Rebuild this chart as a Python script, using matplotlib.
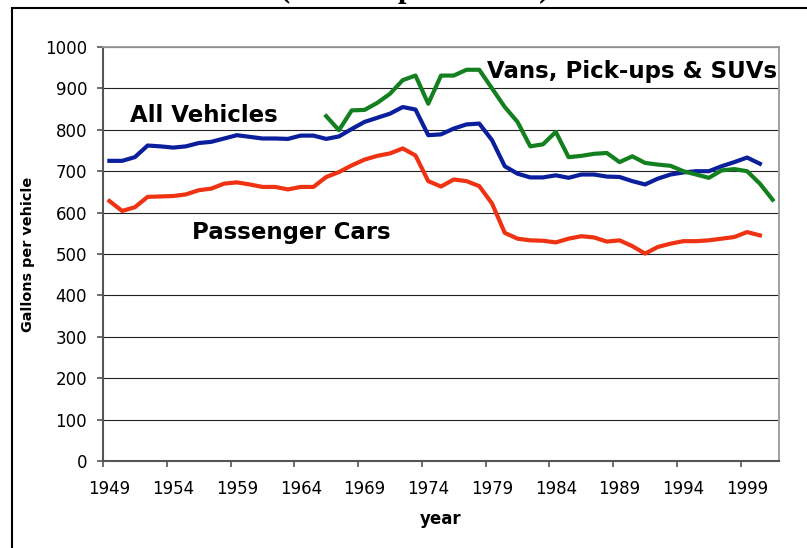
import matplotlib
matplotlib.use("Agg")
import matplotlib.pyplot as plt
from matplotlib.patches import Rectangle
import numpy as np

# ---- data ----
years = list(range(1949, 2002))                 # categories 1949..2001
years_all = list(range(1949, 2001))             # All Vehicles / Passenger Cars
years_vans = list(range(1966, 2002))            # Vans, Pick-ups & SUVs

all_vehicles = [725, 725, 734, 762, 760, 757, 760, 768, 771, 779,
                787, 783, 779, 779, 778, 786, 786, 778, 784, 802,
                819, 829, 839, 855, 849, 787, 789, 803, 813, 815,
                775, 712, 694, 685, 685, 690, 684, 692, 692, 687,
                686, 676, 668, 682, 692, 697, 700, 700, 712, 722,
                733, 718]
passenger_cars = [628, 604, 613, 638, 639, 640, 644, 654, 658, 670,
                  673, 668, 662, 662, 656, 662, 662, 686, 698, 714,
                  728, 737, 743, 755, 738, 676, 663, 680, 676, 664,
                  622, 551, 537, 533, 532, 528, 537, 543, 540, 530,
                  533, 519, 501, 517, 525, 531, 531, 533, 537, 541,
                  553, 545]
vans_pickups_suvs = [833, 799, 847, 848, 865, 887, 920, 931, 863, 931,
                     931, 945, 945, 900, 855, 819, 760, 765, 795, 734,
                     737, 742, 744, 722, 736, 720, 716, 713, 700, 692,
                     684, 702, 705, 700, 670, 631]

xtick_labels = [str(y) for y in range(1949, 2000, 5)]
ytick_values = list(range(0, 1001, 100))

title_text = "(Gallons per vehicle)"
label_all = "All Vehicles"
label_cars = "Passenger Cars"
label_vans = "Vans, Pick-ups & SUVs"

# ---- figure ----
W, H = 807, 548
fig = plt.figure(figsize=(W / 100, H / 100), dpi=100)
plt.rcParams['font.family'] = ['DejaVu Sans']

ax = fig.add_axes([103 / W, 1 - 461 / H, 676 / W, 414 / H])

c_blue = '#0b1f9c'
c_red = '#ee3212'
c_green = '#13801f'

ax.plot(years_all, all_vehicles, color=c_blue, lw=3.0, solid_joinstyle='round', zorder=3)
ax.plot(years_all, passenger_cars, color=c_red, lw=3.0, solid_joinstyle='round', zorder=3)
ax.plot(years_vans, vans_pickups_suvs, color=c_green, lw=3.0, solid_joinstyle='round', zorder=3)

ax.set_xlim(years[0] - 0.5, years[-1] + 0.5)
ax.set_ylim(0, 1000)

# category axis: tick marks at boundaries, labels at category centres
ax.set_xticks([int(l) - 0.5 for l in xtick_labels])
ax.set_xticklabels([])
ax.set_xticks([int(l) for l in xtick_labels], minor=True)
ax.set_xticklabels(xtick_labels, minor=True)
ax.tick_params(axis='x', which='major', direction='out', length=4.5, width=1.2, color='#555555')
ax.tick_params(axis='x', which='minor', length=0, pad=14, labelsize=12)

ax.set_yticks(ytick_values)
ax.set_yticklabels([str(v) for v in ytick_values])
ax.tick_params(axis='y', direction='out', length=4.5, width=1.2, color='#555555', pad=7, labelsize=12)

ax.grid(axis='y', color='#222222', lw=0.8)
ax.set_axisbelow(True)

for s in ['top', 'right']:
    ax.spines[s].set_color('#9a9a9a')
    ax.spines[s].set_linewidth(1.3)
for s in ['left', 'bottom']:
    ax.spines[s].set_color('#555555')
    ax.spines[s].set_linewidth(1.5)

ax.set_xlabel('year', fontsize=12, fontweight='bold')
ax.xaxis.set_label_coords(0.5, -0.118)
ax.set_ylabel('Gallons per vehicle', fontsize=10.4, fontweight='bold')
ax.yaxis.set_label_coords(-0.1006, 0.5)

ax.text(1950.6, 835, label_all, fontsize=16.5, fontweight='bold', ha='left', va='center')
ax.text(1955.5, 553, label_cars, fontsize=16.5, fontweight='bold', ha='left', va='center')
ax.text(1978.6, 940, label_vans, fontsize=16.5, fontweight='bold', ha='left', va='center', clip_on=False)

# outer chart frame (cut by the image edges)
fig.patches.append(Rectangle((12 / W, -0.5), 2.0, (1 - 8 / H) + 0.5,
                             transform=fig.transFigure, fill=False,
                             edgecolor='black', lw=1.5))

# title, mostly cut off by the top edge
fig.text(415 / W, 1 + 2.5 / H, title_text, family='Liberation Serif', fontweight='bold',
         fontsize=22, ha='center', va='baseline')

fig.savefig('out.png', dpi=100)
